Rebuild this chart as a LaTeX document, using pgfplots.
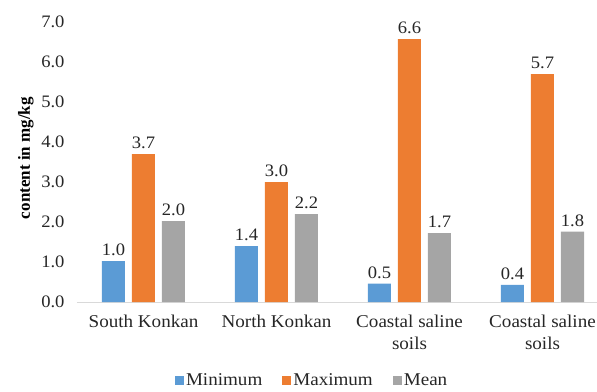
\documentclass[border=0pt]{standalone}
\usepackage{fontspec}
\setmainfont{Liberation Serif}[FakeStretch=1.06]
\newfontfamily\ylabfont{Liberation Serif}
\usepackage{pgfplots}
\pgfplotsset{compat=1.18}
\definecolor{cMin}{HTML}{5B9BD5}
\definecolor{cMax}{HTML}{ED7D31}
\definecolor{cMean}{HTML}{A5A5A5}
\definecolor{txt}{HTML}{262626}
\definecolor{axc}{HTML}{D9D9D9}
\begin{document}
\begin{tikzpicture}
\begin{axis}[
  at={(0pt,0pt)}, anchor=south west,
  scale only axis, width=532pt, height=280pt,
  ybar=7pt, bar width=23pt,
  xmin=-0.5, xmax=3.5, ymin=0, ymax=7,
  xtick=data,
  xticklabels={{South Konkan},{North Konkan},{Coastal saline\\soils},{Coastal saline\\soils}},
  xticklabel style={align=center, font=\fontsize{18}{22}\selectfont, text=txt, yshift=-5pt},
  ytick={0,1,...,7},
  yticklabel style={font=\fontsize{17.5}{20}\selectfont, text=txt, xshift=-9pt},
  /pgf/number format/assume math mode=true,
  yticklabel={\pgfmathprintnumber[fixed,fixed zerofill,precision=1]{\tick}},
  axis x line*=bottom, axis y line*=left,
  x axis line style={draw=axc, line width=1pt},
  y axis line style={draw=none},
  xtick style={draw=none}, ytick style={draw=none},
  ylabel={\ylabfont\bfseries content in mg/kg},
  ylabel style={font=\fontsize{17}{20}\selectfont, text=black, at={(axis description cs:-0.096,0.514)}, anchor=center},
  nodes near coords={\pgfmathprintnumber[fixed,fixed zerofill,precision=1]{\pgfplotspointmeta}},
  every node near coord/.append style={font=\fontsize{17.5}{20}\selectfont, text=txt, inner sep=5pt},
  legend columns=3,
  legend style={at={(0.442,-0.279)}, anchor=center, draw=none, fill=none,
    font=\fontsize{18}{21}\selectfont, text=txt,
    /tikz/every even column/.append style={column sep=18pt}},
  legend image code/.code={\fill[#1] (0pt,-4.5pt) rectangle (9pt,4.5pt);},
]
\addplot[fill=cMin, draw=none] coordinates {(0,1.02) (1,1.40) (2,0.46) (3,0.43)};
\addplot[fill=cMax, draw=none] coordinates {(0,3.70) (1,3.00) (2,6.57) (3,5.70)};
\addplot[fill=cMean, draw=none] coordinates {(0,2.02) (1,2.20) (2,1.72) (3,1.76)};
\legend{Minimum,Maximum,Mean}
\end{axis}
\pgfresetboundingbox
\useasboundingbox (-77pt,-89pt) rectangle (520pt,302pt);
\end{tikzpicture}
\end{document}
